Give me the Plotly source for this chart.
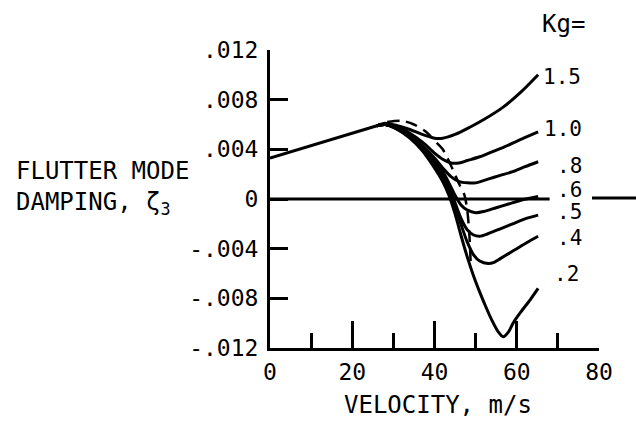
import plotly.graph_objects as go

# Shared low-speed segment (all Kg values coincide here)
v_common = [0, 10, 20, 26]
z_common = [0.0033, 0.0043, 0.0053, 0.0059]

# Flutter-mode damping branches, one per gain Kg
kg_labels = ["1.5", "1.0", ".8", ".6", ".5", ".4", ".2"]

v_kg15 = [28, 31, 34, 37, 40, 42, 45, 48.7, 52, 56.7, 61, 65.2]
z_kg15 = [0.0061, 0.0059, 0.0056, 0.0052, 0.0049, 0.0049, 0.0052, 0.0058, 0.0064, 0.0074, 0.0086, 0.0100]

v_kg10 = [28, 31, 34, 37, 40, 42, 44, 46, 48, 51, 54, 57, 61, 65.2]
z_kg10 = [0.0060, 0.0058, 0.0053, 0.0046, 0.0037, 0.0032, 0.0029, 0.0029, 0.0031, 0.0034, 0.0038, 0.0042, 0.0048, 0.0054]

v_kg08 = [28, 31, 34, 37, 40, 42, 44, 46, 48, 50, 53, 56, 59, 62, 65.2]
z_kg08 = [0.0060, 0.0057, 0.0052, 0.0043, 0.0033, 0.0025, 0.0018, 0.0014, 0.0013, 0.0013, 0.0016, 0.0019, 0.0022, 0.0026, 0.0030]

v_kg06 = [28, 31, 34, 37, 40, 42, 43.5, 45, 46.5, 48, 50, 52, 55, 58, 61, 65.2]
z_kg06 = [0.0060, 0.0057, 0.0051, 0.0042, 0.0030, 0.0022, 0.0013, 0.0003, -0.0005, -0.0009, -0.0011, -0.0010, -0.0007, -0.0004, -0.0001, 0.0002]

v_kg05 = [28, 31, 34, 37, 40, 42, 43.5, 45, 46.5, 48, 49.5, 51, 53, 56, 59, 62, 65.2]
z_kg05 = [0.0060, 0.0057, 0.0050, 0.0041, 0.0029, 0.0020, 0.0010, -0.0003, -0.0016, -0.0025, -0.0029, -0.0030, -0.0028, -0.0024, -0.0020, -0.0016, -0.0013]

v_kg04 = [28, 31, 34, 37, 40, 42, 43.5, 45, 46.5, 48, 49.5, 51, 53, 54.5, 56, 58, 60, 62.5, 65.2]
z_kg04 = [0.0060, 0.0056, 0.0050, 0.0040, 0.0027, 0.0017, 0.0007, -0.0006, -0.0021, -0.0035, -0.0045, -0.0050, -0.0052, -0.0051, -0.0048, -0.0044, -0.0040, -0.0035, -0.0030]

v_kg02 = [28, 31, 34, 37, 40, 42, 43.5, 45, 46.5, 48, 49.5, 51, 52.5, 54, 55.5, 56.7, 58, 59.1, 61, 63.3, 65.2]
z_kg02 = [0.0060, 0.0056, 0.0049, 0.0039, 0.0025, 0.0014, 0.0003, -0.0012, -0.0030, -0.0047, -0.0062, -0.0075, -0.0087, -0.0098, -0.0107, -0.0111, -0.0107, -0.0100, -0.0091, -0.0081, -0.0072]

# Dashed boundary locus
v_dash = [28.5, 32, 35, 38, 40, 42, 44, 46, 47.3, 48, 48.5, 48.8]
z_dash = [0.0062, 0.0063, 0.0060, 0.0054, 0.0047, 0.0040, 0.0027, 0.0012, 0.0003, -0.0010, -0.0030, -0.0052]

# Zero-damping reference line extent
v_zero = [0, 68]
z_zero = [0, 0]

# Axis ticks
x_major = [0, 20, 40, 60, 80]
x_minor = [10, 30, 50, 70]
y_ticks = [0.012, 0.008, 0.004, 0, -0.004, -0.008, -0.012]
y_ticktext = [".012", ".008", ".004", "0", "-.004", "-.008", "-.012"]

FONT = "DejaVu Sans Mono"
X0, X1 = 0, 80
Y0, Y1 = -0.012, 0.012

fig = go.Figure()
line = dict(color="black", width=3)

fig.add_trace(go.Scatter(x=v_zero, y=z_zero, mode="lines", line=dict(color="black", width=3)))
fig.add_trace(go.Scatter(x=v_common, y=z_common, mode="lines", line=line))

branches = [(v_kg15, z_kg15), (v_kg10, z_kg10), (v_kg08, z_kg08), (v_kg06, z_kg06),
            (v_kg05, z_kg05), (v_kg04, z_kg04), (v_kg02, z_kg02)]
for v, z in branches:
    fig.add_trace(go.Scatter(x=[v_common[-1]] + v, y=[z_common[-1]] + z, mode="lines",
                             line=dict(color="black", width=3, shape="spline", smoothing=0.8)))

fig.add_trace(go.Scatter(x=v_dash, y=z_dash, mode="lines",
                         line=dict(color="black", width=2.5, dash="12px,7px",
                                   shape="spline", smoothing=0.8)))

# Plot-area geometry (pixels) used for paper-space placement of labels
W, H = 636, 429
ML, MR, MT, MB = 270, 37, 50, 81
PW, PH = W - ML - MR, H - MT - MB


def px_x(px):
    return (px - ML) / PW


def px_y(py):
    return (H - MB - py) / PH


label_pos = {"1.5": (542, 77), "1.0": (543, 129), ".8": (556, 166), ".6": (556, 190),
             ".5": (556, 212), ".4": (556, 237.5), ".2": (553, 274)}
annotations = [dict(text="Kg=", x=px_x(540), y=px_y(24), xref="paper", yref="paper",
                    xanchor="left", yanchor="middle", showarrow=False,
                    font=dict(family=FONT, size=24, color="black"))]
for lab in kg_labels:
    px, py = label_pos[lab]
    annotations.append(dict(text=lab, x=px_x(px), y=px_y(py), xref="paper", yref="paper",
                            xanchor="left", yanchor="middle", showarrow=False,
                            borderpad=0,
                            font=dict(family=FONT, size=21, color="black")))

annotations.append(dict(text="FLUTTER MODE<br>DAMPING, \u03b6<sub>3</sub>",
                        x=px_x(14), y=px_y(188), xref="paper", yref="paper",
                        xanchor="left", yanchor="middle", align="left", showarrow=False,
                        font=dict(family=FONT, size=24, color="black")))
annotations.append(dict(text="VELOCITY, m/s", x=px_x(438), y=px_y(405),
                        xref="paper", yref="paper", xanchor="center", yanchor="middle",
                        showarrow=False, font=dict(family=FONT, size=24, color="black")))

# Short pointer dash to the right of the ".6" label
shapes = [dict(type="line", xref="paper", yref="paper", x0=px_x(592), x1=px_x(640),
               y0=px_y(198), y1=px_y(198), line=dict(color="black", width=3))]

fig.update_layout(
    width=W, height=H, autosize=False,
    margin=dict(l=ML, r=MR, t=MT, b=MB),
    paper_bgcolor="white", plot_bgcolor="white",
    showlegend=False,
    annotations=annotations, shapes=shapes,
    xaxis=dict(range=[X0, X1], tickvals=x_major, ticktext=[str(v) for v in x_major],
               ticks="inside", ticklen=27, tickwidth=3, tickcolor="black",
               minor=dict(tickvals=x_minor, ticks="inside", ticklen=15, tickwidth=3,
                          tickcolor="black"),
               showline=True, linecolor="black", linewidth=3, showgrid=False,
               zeroline=False, ticklabelstandoff=1,
               tickfont=dict(family=FONT, size=23, color="black")),
    yaxis=dict(range=[Y0, Y1], tickvals=y_ticks, ticktext=y_ticktext,
               ticks="inside", ticklen=18, tickwidth=3, tickcolor="black",
               showline=True, linecolor="black", linewidth=3, showgrid=False,
               zeroline=False, ticklabelstandoff=4,
               tickfont=dict(family=FONT, size=23, color="black")),
)

fig.write_html("out.html")
